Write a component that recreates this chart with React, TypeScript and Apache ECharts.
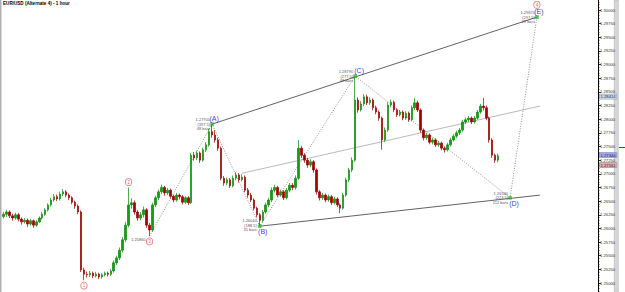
import React, { useEffect, useRef } from 'react';
import * as echarts from 'echarts';

const TITLE = 'EUR/USD (Alternate 4) - 1 hour';
const SLOT_COUNT = 200;
const slots = Array.from({ length: SLOT_COUNT }, (_, i) => 'h' + i);

// hourly candles in pips (price * 10000): [open, close, low, high]
const candlesPips: number[][] = [
  [12622,12626,12618,12630],[12626,12630,12621,12634],[12630,12623,12619,12633],[12623,12619,12614,12627],
  [12619,12625,12616,12629],[12625,12617,12613,12628],[12617,12612,12607,12620],[12612,12615,12609,12619],
  [12615,12608,12603,12618],[12608,12614,12605,12617],[12614,12606,12601,12616],[12606,12612,12603,12615],
  [12612,12619,12610,12622],[12619,12626,12616,12630],[12626,12634,12623,12637],[12634,12643,12631,12646],
  [12643,12652,12640,12656],[12652,12658,12649,12663],[12658,12654,12650,12662],[12654,12663,12651,12667],
  [12663,12667,12659,12672],[12667,12661,12657,12670],[12661,12656,12652,12664],[12656,12648,12644,12659],
  [12648,12641,12636,12651],[12641,12630,12626,12644],[12630,12524,12520,12633],[12524,12516,12505,12528],
  [12516,12515,12510,12521],[12515,12518,12511,12522],[12518,12513,12509,12521],[12513,12516,12510,12520],
  [12516,12511,12507,12519],[12511,12515,12508,12518],[12515,12518,12512,12521],[12518,12516,12512,12521],
  [12516,12522,12513,12526],[12522,12537,12519,12541],[12537,12546,12533,12550],[12546,12560,12542,12565],
  [12560,12579,12556,12584],[12579,12606,12575,12612],[12606,12643,12602,12675],[12643,12647,12636,12655],
  [12647,12630,12625,12651],[12630,12619,12614,12634],[12619,12625,12615,12630],[12625,12634,12620,12640],
  [12634,12606,12601,12637],[12606,12597,12586,12610],[12597,12643,12594,12647],[12643,12656,12639,12660],
  [12656,12667,12652,12671],[12667,12675,12663,12680],[12675,12665,12660,12678],[12665,12670,12661,12674],
  [12670,12659,12655,12673],[12659,12652,12648,12662],[12652,12661,12649,12665],[12661,12658,12653,12664],
  [12658,12648,12644,12661],[12648,12656,12645,12659],[12656,12647,12643,12659],[12647,12734,12645,12738],
  [12734,12729,12724,12740],[12729,12738,12725,12742],[12738,12725,12720,12741],[12725,12744,12722,12748],
  [12744,12753,12740,12758],[12753,12777,12750,12782],[12777,12771,12766,12791],[12771,12762,12757,12780],
  [12762,12747,12742,12766],[12747,12692,12688,12750],[12692,12683,12678,12696],[12683,12689,12679,12693],
  [12689,12678,12674,12692],[12678,12692,12675,12697],[12692,12698,12688,12703],[12698,12689,12684,12701],
  [12689,12694,12686,12699],[12694,12670,12666,12697],[12670,12661,12656,12674],[12661,12652,12648,12665],
  [12652,12637,12633,12655],[12637,12625,12620,12640],[12625,12615,12604,12628],[12615,12630,12611,12634],
  [12630,12643,12627,12647],[12643,12652,12639,12656],[12652,12670,12648,12675],[12670,12675,12666,12680],
  [12675,12661,12657,12678],[12661,12667,12658,12671],[12667,12656,12652,12670],[12656,12670,12653,12674],
  [12670,12679,12666,12683],[12679,12675,12670,12683],[12675,12692,12671,12697],[12692,12747,12689,12762],
  [12747,12734,12729,12751],[12734,12725,12720,12738],[12725,12716,12711,12729],[12716,12722,12712,12727],
  [12722,12707,12702,12725],[12707,12667,12662,12710],[12667,12656,12651,12670],[12656,12661,12652,12665],
  [12661,12652,12648,12664],[12652,12658,12649,12662],[12658,12647,12643,12661],[12647,12654,12644,12658],
  [12654,12643,12639,12657],[12643,12637,12628,12646],[12637,12661,12634,12665],[12661,12689,12658,12693],
  [12689,12707,12685,12711],[12707,12725,12703,12730],[12725,12835,12722,12879],[12835,12817,12812,12840],
  [12817,12828,12814,12833],[12828,12841,12824,12846],[12841,12830,12826,12845],[12830,12835,12826,12840],
  [12835,12821,12816,12838],[12821,12813,12809,12825],[12813,12802,12797,12816],[12802,12762,12744,12805],
  [12762,12780,12758,12785],[12780,12826,12777,12831],[12826,12831,12822,12836],[12831,12817,12813,12834],
  [12817,12808,12804,12820],[12808,12813,12805,12817],[12813,12802,12798,12816],[12802,12811,12799,12815],
  [12811,12799,12795,12814],[12799,12821,12796,12825],[12821,12830,12817,12839],[12830,12817,12813,12834],
  [12817,12780,12775,12820],[12780,12766,12761,12783],[12766,12771,12762,12775],[12771,12758,12754,12774],
  [12758,12762,12754,12766],[12762,12753,12749,12765],[12753,12756,12749,12760],[12756,12747,12743,12759],
  [12747,12744,12739,12750],[12744,12753,12741,12757],[12753,12762,12750,12766],[12762,12769,12759,12773],
  [12769,12775,12765,12779],[12775,12780,12771,12784],[12780,12795,12777,12799],[12795,12799,12791,12803],
  [12799,12802,12795,12806],[12802,12795,12791,12805],[12795,12802,12792,12806],[12802,12813,12799,12817],
  [12813,12824,12810,12828],[12824,12821,12816,12839],[12821,12802,12798,12825],[12802,12762,12757,12805],
  [12762,12734,12729,12765],[12734,12725,12720,12737],[12725,12733,12721,12737],
];
const PIPS_PER_UNIT = 10000;

const tickLabels = [
  '1.25000','1.25250','1.25500','1.25750','1.26000','1.26250','1.26500','1.26750','1.27000',
  '1.27250','1.27500','1.27750','1.28000','1.28250','1.28500','1.28750','1.29000','1.29250',
  '1.29500','1.29750','1.30000',
];

// Elliott triangle waves
const waveNames = ['(A)', '(B)', '(C)', '(D)', '(E)'];
const waveIndex = [70, 86, 118, 170, 179];
const wavePrice = [1.2791, 1.2604, 1.2879, 1.2656, 1.2987];
const waveRatio = ['(397.5)', '(188.5)', '(277.5)', '(223.5)', '(297.5)'];
const waveBars = ['48 bars', '35 bars', '48 bars', '112 bars', '29 bars'];

// higher degree circled labels
const circleNames = ['1', '2', '3', '4'];
const circleIndex = [27, 42, 49, 179];
const circlePrice = [1.2505, 1.2675, 1.2586, 1.2987];

// channel lines [index, price]
const upperChannel = [[70, 1.2791], [179, 1.2987]];
const lowerChannel = [[86, 1.2604], [180, 1.2661]];
const midChannel = [[80, 1.2701], [180, 1.2824]];
const wavePath = [[49, 1.2586], [70, 1.2791], [86, 1.2604], [118, 1.2879], [170, 1.2656], [179, 1.2987]];

// quote boxes on price scale
const quoteValues = [1.28414, 1.27344, 1.27161];
const quoteColors = ['#c9dbe9', '#a8a8f0', '#eaa9a9'];

const Y_MIN = 1.248352;
const Y_MAX = 1.301832;
const FONT = 'Liberation Sans';

export default function App() {
  const ref = useRef<HTMLDivElement>(null);
  useEffect(() => {
    if (!ref.current) return;
    const chart = echarts.init(ref.current, undefined, { renderer: 'svg' });
    const candles = candlesPips.map((c) => c.map((v) => v / PIPS_PER_UNIT));
    const tickValues = tickLabels.map(Number);
    const minorTicks: number[] = [];
    for (let k = 0; k * 0.0005 + 1.2485 <= Y_MAX; k++) minorTicks.push(+(1.2485 + k * 0.0005).toFixed(5));

    const lineSeries = (data: number[][], color: string, type: any, width: number) => ({
      type: 'line', data, symbol: 'none', silent: true, z: 3,
      lineStyle: { color, width, type },
    });

    const quoteRich: any = {};
    quoteColors.forEach((c, i) => {
      quoteRich['q' + i] = {
        backgroundColor: c, borderColor: '#7a8aa0', borderWidth: 0.5, padding: [0.5, 1, 0, 1],
        fontSize: 4.2, color: '#223', fontFamily: FONT,
      };
    });
    const quoteIdx = (v: number) => {
      let best = 0;
      quoteValues.forEach((q, i) => { if (Math.abs(q - v) < Math.abs(quoteValues[best] - v)) best = i; });
      return best;
    };

    chart.setOption({
      animation: false,
      textStyle: { fontFamily: FONT },
      grid: { left: 2, right: 27, top: 0, bottom: 0, containLabel: false },
      xAxis: { type: 'category', data: slots, show: false, boundaryGap: true },
      yAxis: [
        {
          type: 'value', min: Y_MIN, max: Y_MAX, position: 'right', offset: 0, scale: true,
          axisLine: { show: true, lineStyle: { color: '#000', width: 1 } },
          axisTick: { show: true, customValues: minorTicks, length: 1.5, lineStyle: { color: '#000', width: 0.6 } },
          axisLabel: { show: false }, splitLine: { show: false },
        },
        {
          type: 'value', min: Y_MIN, max: Y_MAX, position: 'right', offset: 0, scale: true,
          axisLine: { show: false },
          axisTick: { show: true, customValues: tickValues, length: 3, lineStyle: { color: '#000', width: 0.8 } },
          axisLabel: {
            show: true, customValues: tickValues, formatter: (v: number) => v.toFixed(5),
            fontSize: 4.2, color: '#333', margin: 2, fontFamily: FONT,
          },
          splitLine: { show: false },
        },
        {
          type: 'value', min: Y_MIN, max: Y_MAX, position: 'right', offset: 0, scale: true,
          axisLine: { show: false }, axisTick: { show: false }, splitLine: { show: false },
          axisLabel: {
            show: true, customValues: quoteValues, hideOverlap: false, margin: 1.5,
            formatter: (v: number) => `{q${quoteIdx(v)}|${v.toFixed(5)}}`,
            rich: quoteRich,
          },
        },
      ],
      series: [
        {
          type: 'candlestick', data: candles, barWidth: 2, z: 4,
          itemStyle: { color: '#10a010', color0: '#a00000', borderColor: '#0a8a0a', borderColor0: '#9a0000', borderWidth: 0.7 },
        },
        lineSeries(upperChannel, '#3a3a3a', 'solid', 0.8),
        lineSeries(lowerChannel, '#3a3a3a', 'solid', 0.8),
        lineSeries(midChannel, '#a8a8a8', 'solid', 0.8),
        lineSeries(wavePath, '#666', [1, 1.5], 0.7),
        {
          type: 'scatter', symbol: 'rect', symbolSize: 3, z: 6,
          itemStyle: { color: '#22cc22', borderColor: '#118811', borderWidth: 0.4 },
          data: waveNames.map((n, i) => ({
            value: [waveIndex[i], wavePrice[i]],
            label: {
              show: true, formatter: n,
              position: i === 1 || i === 3 ? 'bottom' : 'top',
              offset: [[2, 0], [3, 0], [4, 0], [4, 0], [2, 0]][i],
              distance: 0.5, color: '#0000ee', fontSize: 7, fontFamily: FONT,
            },
          })),
        },
        {
          type: 'scatter', symbolSize: 0, z: 6, silent: true,
          data: waveNames.map((n, i) => ({
            value: [waveIndex[i], wavePrice[i]],
            label: {
              show: true, position: 'left', distance: 2,
              formatter: [wavePrice[i].toFixed(5), waveRatio[i], waveBars[i]].join('\n'),
              fontSize: 4, lineHeight: 4.3, color: '#222', align: 'right', fontFamily: FONT,
              offset: i === 1 ? [-1, -1] : [0, 0],
            },
          })).concat([{
            value: [circleIndex[2], circlePrice[2]],
            label: {
              show: true, position: 'left', distance: 4, formatter: circlePrice[2].toFixed(5),
              fontSize: 4, lineHeight: 4.3, color: '#222', align: 'right', fontFamily: FONT,
              offset: [0, 3],
            } as any,
          }]),
        },
        {
          type: 'scatter', symbolSize: 0, z: 7, silent: true,
          data: circleNames.map((n, i) => ({
            value: [circleIndex[i], circlePrice[i]],
            label: {
              show: true, formatter: n,
              position: i === 1 || i === 3 ? 'top' : 'bottom',
              distance: i === 3 ? 9 : 2,
              color: '#e03030', fontSize: 4.5, fontFamily: FONT,
              borderColor: '#e03030', borderWidth: 0.6, borderRadius: 4,
              backgroundColor: '#fff', padding: [1, 1.6, 0.6, 1.6],
            },
          })),
        },
      ],
      graphic: [
        { type: 'rect', left: 0, top: 0, shape: { width: 1.5, height: 292 }, style: { fill: '#b0b0b0' }, silent: true },
        { type: 'rect', left: 614, top: 0, shape: { width: 4, height: 292 }, style: { fill: '#d8d8d8', stroke: '#a0a0a0', lineWidth: 0.5 }, silent: true },
        { type: 'line', shape: { x1: 619, y1: 147.5, x2: 625, y2: 147.5 }, style: { stroke: '#2040ff', lineWidth: 1 }, silent: true },
        {
          type: 'text', left: 3, top: 1, silent: true,
          style: { text: TITLE, fontSize: 4.6, fontWeight: 'bold', fill: '#000', fontFamily: FONT },
        },
      ],
    });
    return () => chart.dispose();
  }, []);
  return <div ref={ref} style={{ position: 'absolute', left: 0, top: 0, width: 625, height: 292, background: '#fff' }} />;
}
